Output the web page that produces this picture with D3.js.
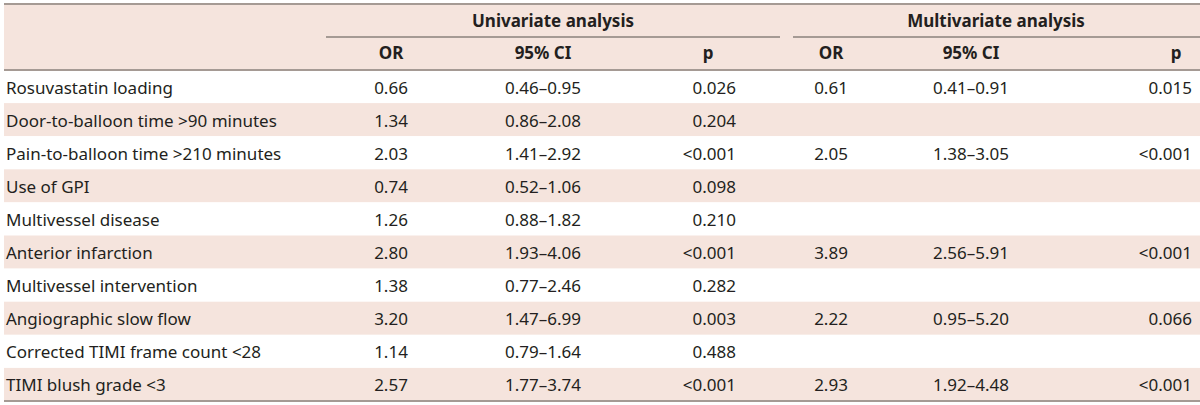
<!DOCTYPE html>
<html><head><meta charset="utf-8">
<script src="https://cdn.jsdelivr.net/npm/d3@7"></script>
<style>body{margin:0;background:#fff}svg{display:block}</style>
</head><body>
<svg id="c" width="1200" height="405"></svg>
<script>
const labels = ["Rosuvastatin loading","Door-to-balloon time >90 minutes","Pain-to-balloon time >210 minutes","Use of GPI","Multivessel disease","Anterior infarction","Multivessel intervention","Angiographic slow flow","Corrected TIMI frame count <28","TIMI blush grade <3"];
const uniOR = ["0.66","1.34","2.03","0.74","1.26","2.80","1.38","3.20","1.14","2.57"];
const uniCI = ["0.46–0.95","0.86–2.08","1.41–2.92","0.52–1.06","0.88–1.82","1.93–4.06","0.77–2.46","1.47–6.99","0.79–1.64","1.77–3.74"];
const uniP = ["0.026","0.204","<0.001","0.098","0.210","<0.001","0.282","0.003","0.488","<0.001"];
const multiOR = ["0.61","","2.05","","","3.89","","2.22","","2.93"];
const multiCI = ["0.41–0.91","","1.38–3.05","","","2.56–5.91","","0.95–5.20","","1.92–4.48"];
const multiP = ["0.015","","<0.001","","","<0.001","","0.066","","<0.001"];
const groupHeaders = ["Univariate analysis","Multivariate analysis"];
const colHeaders = ["OR","95% CI","p","OR","95% CI","p"];

(function(){
const svg = d3.select("#c");
const pink = "#f5e4dd", lineC = "#a59a94", txt = "#231f20";
const font = "'Noto Sans', sans-serif";
const fs = 17;
const xL = 4, xR = 1200, yTop = 4, ySub = 37, yHead = 70, yBot = 401;

const y = d3.scaleBand().domain(d3.range(labels.length)).range([yHead, yBot]);

svg.append("rect").attr("x", xL).attr("y", yTop).attr("width", xR-xL).attr("height", yHead-yTop).attr("fill", pink);
svg.selectAll("rect.row").data(labels).join("rect").attr("class","row")
  .attr("x", xL).attr("y", (d,i)=>y(i)).attr("width", xR-xL).attr("height", y.bandwidth())
  .attr("fill", (d,i)=> i%2 ? pink : "#fff");

const hl = (x1,x2,yy,w)=>svg.append("line").attr("x1",x1).attr("x2",x2).attr("y1",yy).attr("y2",yy).attr("stroke",lineC).attr("stroke-width",w);
hl(xL, xR, yTop, 2);
hl(326, 780, ySub, 2);
hl(793, xR, ySub, 2);
hl(xL, xR, yHead, 2);
hl(xL, xR, yBot, 2);

const groupX = [553, 996];
svg.selectAll("text.g").data(groupHeaders).join("text").attr("class","g")
  .attr("x",(d,i)=>groupX[i]).attr("y",27).attr("text-anchor","middle")
  .attr("font-family",font).attr("font-size",fs).attr("font-weight","bold").attr("fill",txt).text(d=>d);

const colX = [391, 543, 708, 831, 971, 1176];
svg.selectAll("text.h").data(colHeaders).join("text").attr("class","h")
  .attr("x",(d,i)=>colX[i]).attr("y",59).attr("text-anchor","middle")
  .attr("font-family",font).attr("font-size",fs).attr("font-weight","bold").attr("fill",txt).text(d=>d);

const cols = [
  {data: labels, x: 6, anchor: "start"},
  {data: uniOR, x: 391, anchor: "middle"},
  {data: uniCI, x: 543, anchor: "middle"},
  {data: uniP, x: 736, anchor: "end"},
  {data: multiOR, x: 831, anchor: "middle"},
  {data: multiCI, x: 971, anchor: "middle"},
  {data: multiP, x: 1192, anchor: "end"}
];
cols.forEach((c,ci)=>{
  svg.selectAll("text.c"+ci).data(c.data).join("text").attr("class","c"+ci)
    .attr("x", c.x).attr("y",(d,i)=>y(i)+y.bandwidth()/2+7)
    .attr("text-anchor", c.anchor).attr("font-family",font).attr("font-size",fs)
    .attr("fill",txt).text(d=>d);
});
})();
</script>
</body></html>
